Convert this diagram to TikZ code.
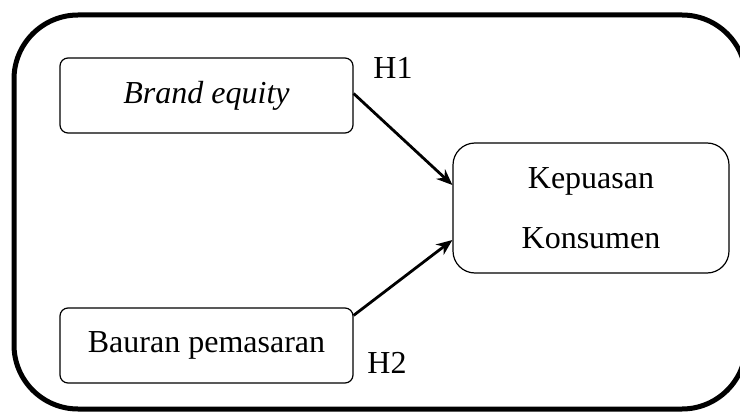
\documentclass[tikz,border=0pt]{standalone}
\usepackage{fontspec}
\setmainfont{Liberation Serif}
\usepackage{tikz}
\usetikzlibrary{arrows.meta}

\begin{document}
\begin{tikzpicture}[x=1pt, y=-1pt,
	line width = 1.2pt,
	font=\fontsize{32}{64}\selectfont,
	frame/.style={draw, line width=5pt, rounded corners=64pt},
	varbox/.style={draw, rectangle, rounded corners=8pt, minimum width=293pt, minimum height=75pt, inner sep=0pt},
	depbox/.style={draw, rectangle, rounded corners=22pt, minimum width=276pt, minimum height=130pt, align=center, inner sep=0pt},
	hyp/.style={inner sep=0pt},
	link/.style={-{Stealth[length=16pt, width=13pt]}, line width=2.8pt}]

	\useasboundingbox (0,0) rectangle (740,412);
	\draw [frame] (14,15) rectangle (746,409);

	\node [varbox] (equity) at (206.5,95.5) {\textit{Brand equity}};
	\node [varbox] (bauran) at (206.5,345.5) {Bauran pemasaran};
	\node [depbox] (puas) at (591,208) {Kepuasan\\[-4pt]Konsumen};

	\node [hyp] (h1) at (393,68) {H1};
	\node [hyp] (h2) at (387,363) {H2};

	\draw [link] ([yshift=2pt]equity.east) -- ([yshift=23pt]puas.west);
	\draw [link] ([yshift=-8pt]bauran.north east) -- ([yshift=-32pt]puas.west);

\end{tikzpicture}
\end{document}
